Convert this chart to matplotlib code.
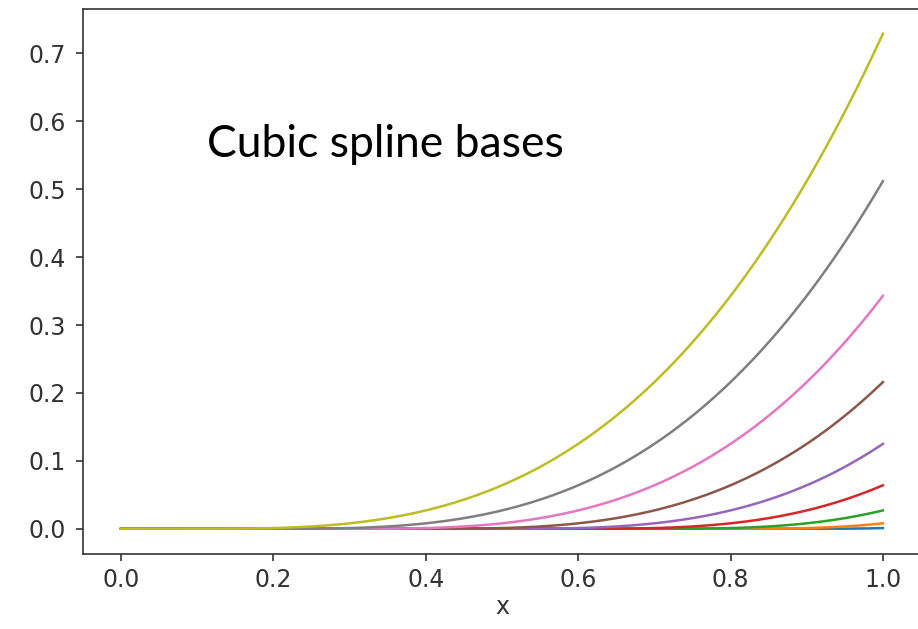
import numpy as np
import matplotlib
matplotlib.use('Agg')
import matplotlib.pyplot as plt

# knot locations of the truncated-power cubic bases, one curve per knot
knots = [0.9, 0.8, 0.7, 0.6, 0.5, 0.4, 0.3, 0.2, 0.1]
colors = ['C0', 'C1', 'C2', 'C3', 'C4', 'C5', 'C6', 'C7', 'C8']
yticks = [0.0, 0.1, 0.2, 0.3, 0.4, 0.5, 0.6, 0.7]
xticks = [0.0, 0.2, 0.4, 0.6, 0.8, 1.0]

x = np.linspace(0, 1, 200)

fig = plt.figure(figsize=(9.18, 6.29), dpi=100)
ax = fig.add_axes([83/918, 75.5/629, 838/918, 544.5/629])
for k, c in zip(knots, colors):
    ax.plot(x, np.clip(x - k, 0, None)**3, color=c, lw=1.8)

ax.set_xticks(xticks)
ax.set_yticks(yticks)
ax.tick_params(labelsize=17, length=5.3, width=1.2, colors='#333333')
ax.tick_params(axis='y', pad=7)
ax.tick_params(axis='x', pad=5)
for s in ax.spines.values():
    s.set_linewidth(1.2); s.set_color('#333333')
ax.set_xlabel('x', fontsize=17, color='#333333', labelpad=2)

fig.text(207/918, 1 - 145/629, 'Cubic spline bases', family='Lato', fontsize=32, va='center', ha='left')

fig.savefig('out.png', dpi=100)
